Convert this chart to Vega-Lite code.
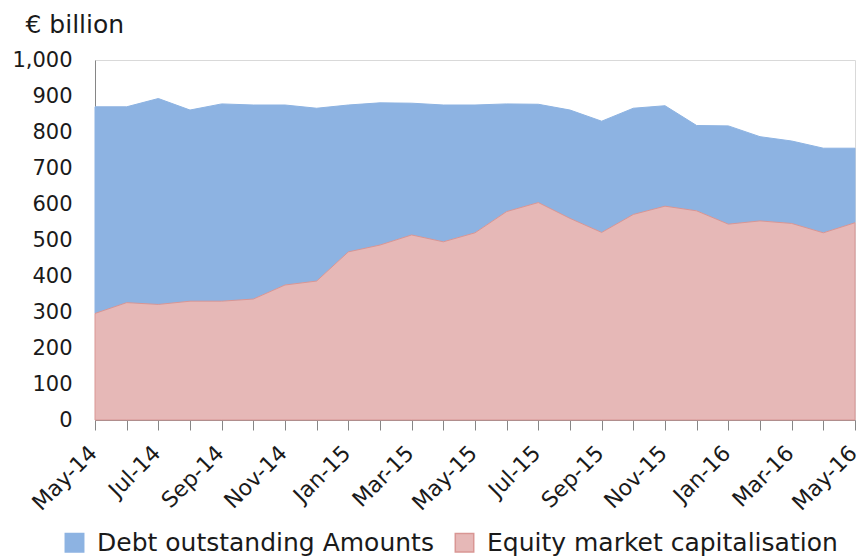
{
  "$schema": "https://vega.github.io/schema/vega-lite/v6.json",
  "width": 760,
  "height": 360,
  "autosize": {"type": "none"},
  "padding": {"left": 95, "top": 60, "right": 3, "bottom": 138},
  "background": "white",
  "config": {
    "font": "DejaVu Sans",
    "view": {"stroke": "#d9d9d9", "strokeWidth": 1},
    "axis": {"labelColor": "#1a1a1a", "titleColor": "#1a1a1a", "domainColor": "#868686", "tickColor": "#868686", "grid": false},
    "legend": {"padding": 0}
  },
  "datasets": {
    "rows": [
      {"month": "May-14", "series": "Debt outstanding Amounts", "value": 574},
      {"month": "Jun-14", "series": "Debt outstanding Amounts", "value": 544},
      {"month": "Jul-14", "series": "Debt outstanding Amounts", "value": 572},
      {"month": "Aug-14", "series": "Debt outstanding Amounts", "value": 531},
      {"month": "Sep-14", "series": "Debt outstanding Amounts", "value": 548},
      {"month": "Oct-14", "series": "Debt outstanding Amounts", "value": 539},
      {"month": "Nov-14", "series": "Debt outstanding Amounts", "value": 500},
      {"month": "Dec-14", "series": "Debt outstanding Amounts", "value": 480},
      {"month": "Jan-15", "series": "Debt outstanding Amounts", "value": 408},
      {"month": "Feb-15", "series": "Debt outstanding Amounts", "value": 395},
      {"month": "Mar-15", "series": "Debt outstanding Amounts", "value": 366},
      {"month": "Apr-15", "series": "Debt outstanding Amounts", "value": 380},
      {"month": "May-15", "series": "Debt outstanding Amounts", "value": 355},
      {"month": "Jun-15", "series": "Debt outstanding Amounts", "value": 299},
      {"month": "Jul-15", "series": "Debt outstanding Amounts", "value": 273},
      {"month": "Aug-15", "series": "Debt outstanding Amounts", "value": 301},
      {"month": "Sep-15", "series": "Debt outstanding Amounts", "value": 309},
      {"month": "Oct-15", "series": "Debt outstanding Amounts", "value": 295},
      {"month": "Nov-15", "series": "Debt outstanding Amounts", "value": 279},
      {"month": "Dec-15", "series": "Debt outstanding Amounts", "value": 237},
      {"month": "Jan-16", "series": "Debt outstanding Amounts", "value": 273},
      {"month": "Feb-16", "series": "Debt outstanding Amounts", "value": 234},
      {"month": "Mar-16", "series": "Debt outstanding Amounts", "value": 229},
      {"month": "Apr-16", "series": "Debt outstanding Amounts", "value": 235},
      {"month": "May-16", "series": "Debt outstanding Amounts", "value": 207},
      {"month": "May-14", "series": "Equity market capitalisation", "value": 296},
      {"month": "Jun-14", "series": "Equity market capitalisation", "value": 326},
      {"month": "Jul-14", "series": "Equity market capitalisation", "value": 321},
      {"month": "Aug-14", "series": "Equity market capitalisation", "value": 330},
      {"month": "Sep-14", "series": "Equity market capitalisation", "value": 330},
      {"month": "Oct-14", "series": "Equity market capitalisation", "value": 336},
      {"month": "Nov-14", "series": "Equity market capitalisation", "value": 375},
      {"month": "Dec-14", "series": "Equity market capitalisation", "value": 386},
      {"month": "Jan-15", "series": "Equity market capitalisation", "value": 467},
      {"month": "Feb-15", "series": "Equity market capitalisation", "value": 486},
      {"month": "Mar-15", "series": "Equity market capitalisation", "value": 514},
      {"month": "Apr-15", "series": "Equity market capitalisation", "value": 495},
      {"month": "May-15", "series": "Equity market capitalisation", "value": 520},
      {"month": "Jun-15", "series": "Equity market capitalisation", "value": 579},
      {"month": "Jul-15", "series": "Equity market capitalisation", "value": 604},
      {"month": "Aug-15", "series": "Equity market capitalisation", "value": 560},
      {"month": "Sep-15", "series": "Equity market capitalisation", "value": 521},
      {"month": "Oct-15", "series": "Equity market capitalisation", "value": 571},
      {"month": "Nov-15", "series": "Equity market capitalisation", "value": 594},
      {"month": "Dec-15", "series": "Equity market capitalisation", "value": 581},
      {"month": "Jan-16", "series": "Equity market capitalisation", "value": 544},
      {"month": "Feb-16", "series": "Equity market capitalisation", "value": 553},
      {"month": "Mar-16", "series": "Equity market capitalisation", "value": 546},
      {"month": "Apr-16", "series": "Equity market capitalisation", "value": 520},
      {"month": "May-16", "series": "Equity market capitalisation", "value": 548}
    ]
  },
  "data": {"name": "rows"},
  "mark": {"type": "area", "strokeWidth": 1},
  "encoding": {
    "x": {
      "field": "month",
      "type": "ordinal",
      "sort": null,
      "scale": {"type": "point", "padding": 0},
      "axis": {
        "title": null,
        "labelAngle": -45,
        "labelAlign": "right",
        "labelBaseline": "top",
        "labelFontSize": 22,
        "labelPadding": 12,
        "labelOffset": -9,
        "tickSize": 10,
        "labelExpr": "test(/^(Jan|Mar|May|Jul|Sep|Nov)/, datum.value) ? datum.value : ''",
        "labelOverlap": false,
        "labelBound": false
      }
    },
    "y": {
      "field": "value",
      "type": "quantitative",
      "stack": "zero",
      "scale": {"domain": [0, 1000], "nice": false},
      "axis": {
        "values": [0, 100, 200, 300, 400, 500, 600, 700, 800, 900, 1000],
        "format": ",d",
        "ticks": false,
        "labelPadding": 23,
        "labelFontSize": 21,
        "title": "€ billion",
        "titleAngle": 0,
        "titleAlign": "left",
        "titleBaseline": "middle",
        "titleX": -70,
        "titleY": -36,
        "titleFontSize": 25,
        "titleFontWeight": "normal"
      }
    },
    "order": {"field": "series", "sort": "descending"},
    "color": {
      "field": "series",
      "type": "nominal",
      "scale": {"domain": ["Debt outstanding Amounts", "Equity market capitalisation"], "range": ["#8DB3E2", "#E6B8B7"]},
      "legend": {
        "title": null,
        "orient": "none",
        "direction": "horizontal",
        "legendX": -33,
        "legendY": 470,
        "symbolType": "square",
        "symbolSize": 340,
        "labelFontSize": 25,
        "labelColor": "#1a1a1a",
        "labelLimit": 500,
        "columnPadding": 18,
        "labelOffset": 10
      }
    },
    "stroke": {
      "field": "series",
      "type": "nominal",
      "scale": {"domain": ["Debt outstanding Amounts", "Equity market capitalisation"], "range": ["#8DB3E2", "#D99694"]},
      "legend": null
    }
  }
}
